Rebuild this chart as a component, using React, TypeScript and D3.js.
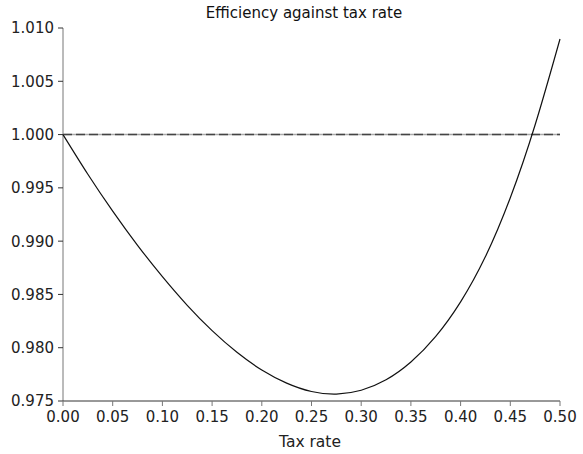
import React from "react";
import * as d3 from "d3";

// Efficiency as a function of the tax rate
const taxRates = [0, 0.025, 0.05, 0.075, 0.1, 0.125, 0.15, 0.175, 0.2, 0.225, 0.25, 0.275, 0.3, 0.325, 0.35, 0.375, 0.4, 0.425, 0.45, 0.475, 0.5];
const efficiency = [1.0, 0.99628, 0.99282, 0.98961, 0.98667, 0.98398, 0.9816, 0.97957, 0.97791, 0.97668, 0.97589, 0.97565, 0.97601, 0.97699, 0.97866, 0.98106, 0.9843, 0.98855, 0.99407, 1.00092, 1.00897];

const baseline = 1.0;
const xTicks = [0, 0.05, 0.1, 0.15, 0.2, 0.25, 0.3, 0.35, 0.4, 0.45, 0.5];
const yTicks = [0.975, 0.98, 0.985, 0.99, 0.995, 1.0, 1.005, 1.01];

const title = "Efficiency against tax rate";
const xLabel = "Tax rate";

const W = 583;
const H = 454;
const margin = { left: 63, right: 23, top: 28, bottom: 53 };
const FONT = "'DejaVu Sans', sans-serif";

export default function App() {
  const x = d3.scaleLinear().domain([0, 0.5]).range([margin.left, W - margin.right]);
  const y = d3.scaleLinear().domain([0.975, 1.01]).range([H - margin.bottom, margin.top]);

  const line = d3
    .line<number>()
    .x((_, i) => x(taxRates[i]))
    .y((d) => y(d))
    .curve(d3.curveNatural);

  const path = line(efficiency) || "";
  const x0 = x(0);
  const x1 = x(0.5);
  const yb = y(0.975);

  return (
    <svg
      width={W}
      height={H}
      style={{ position: "absolute", left: 0, top: 0, background: "#fff" }}
      fontFamily={FONT}
    >
      <text x={304} y={18} textAnchor="middle" fontSize={15} fill="#111">
        {title}
      </text>

      {/* reference line at efficiency = 1 */}
      <line x1={x0} x2={x1} y1={y(baseline)} y2={y(baseline)} stroke="#aaa" strokeWidth={1.5} />
      <line x1={x0} x2={x1} y1={y(baseline)} y2={y(baseline)} stroke="#444" strokeWidth={1.5} strokeDasharray="9,4" />

      {/* y axis */}
      <line x1={x0} x2={x0} y1={y(1.01)} y2={yb} stroke="#777" strokeWidth={1} />
      {yTicks.map((t) => (
        <g key={"y" + t}>
          <line x1={x0 - 5} x2={x0} y1={y(t)} y2={y(t)} stroke="#333" strokeWidth={1} />
          <text x={x0 - 9} y={y(t)} dy="0.36em" textAnchor="end" fontSize={15} fill="#222">
            {d3.format(".3f")(t)}
          </text>
        </g>
      ))}

      {/* x axis */}
      <line x1={x0} x2={x1} y1={yb} y2={yb} stroke="#333" strokeWidth={1} />
      {xTicks.map((t) => (
        <g key={"x" + t}>
          <line x1={x(t)} x2={x(t)} y1={yb} y2={yb + 5} stroke="#777" strokeWidth={1} />
          <text x={x(t)} y={yb + 21} textAnchor="middle" fontSize={15} fill="#222">
            {d3.format(".2f")(t)}
          </text>
        </g>
      ))}
      <text x={310} y={447} textAnchor="middle" fontSize={15.5} fill="#222">
        {xLabel}
      </text>

      <path d={path} fill="none" stroke="#111" strokeWidth={1.2} />
    </svg>
  );
}
